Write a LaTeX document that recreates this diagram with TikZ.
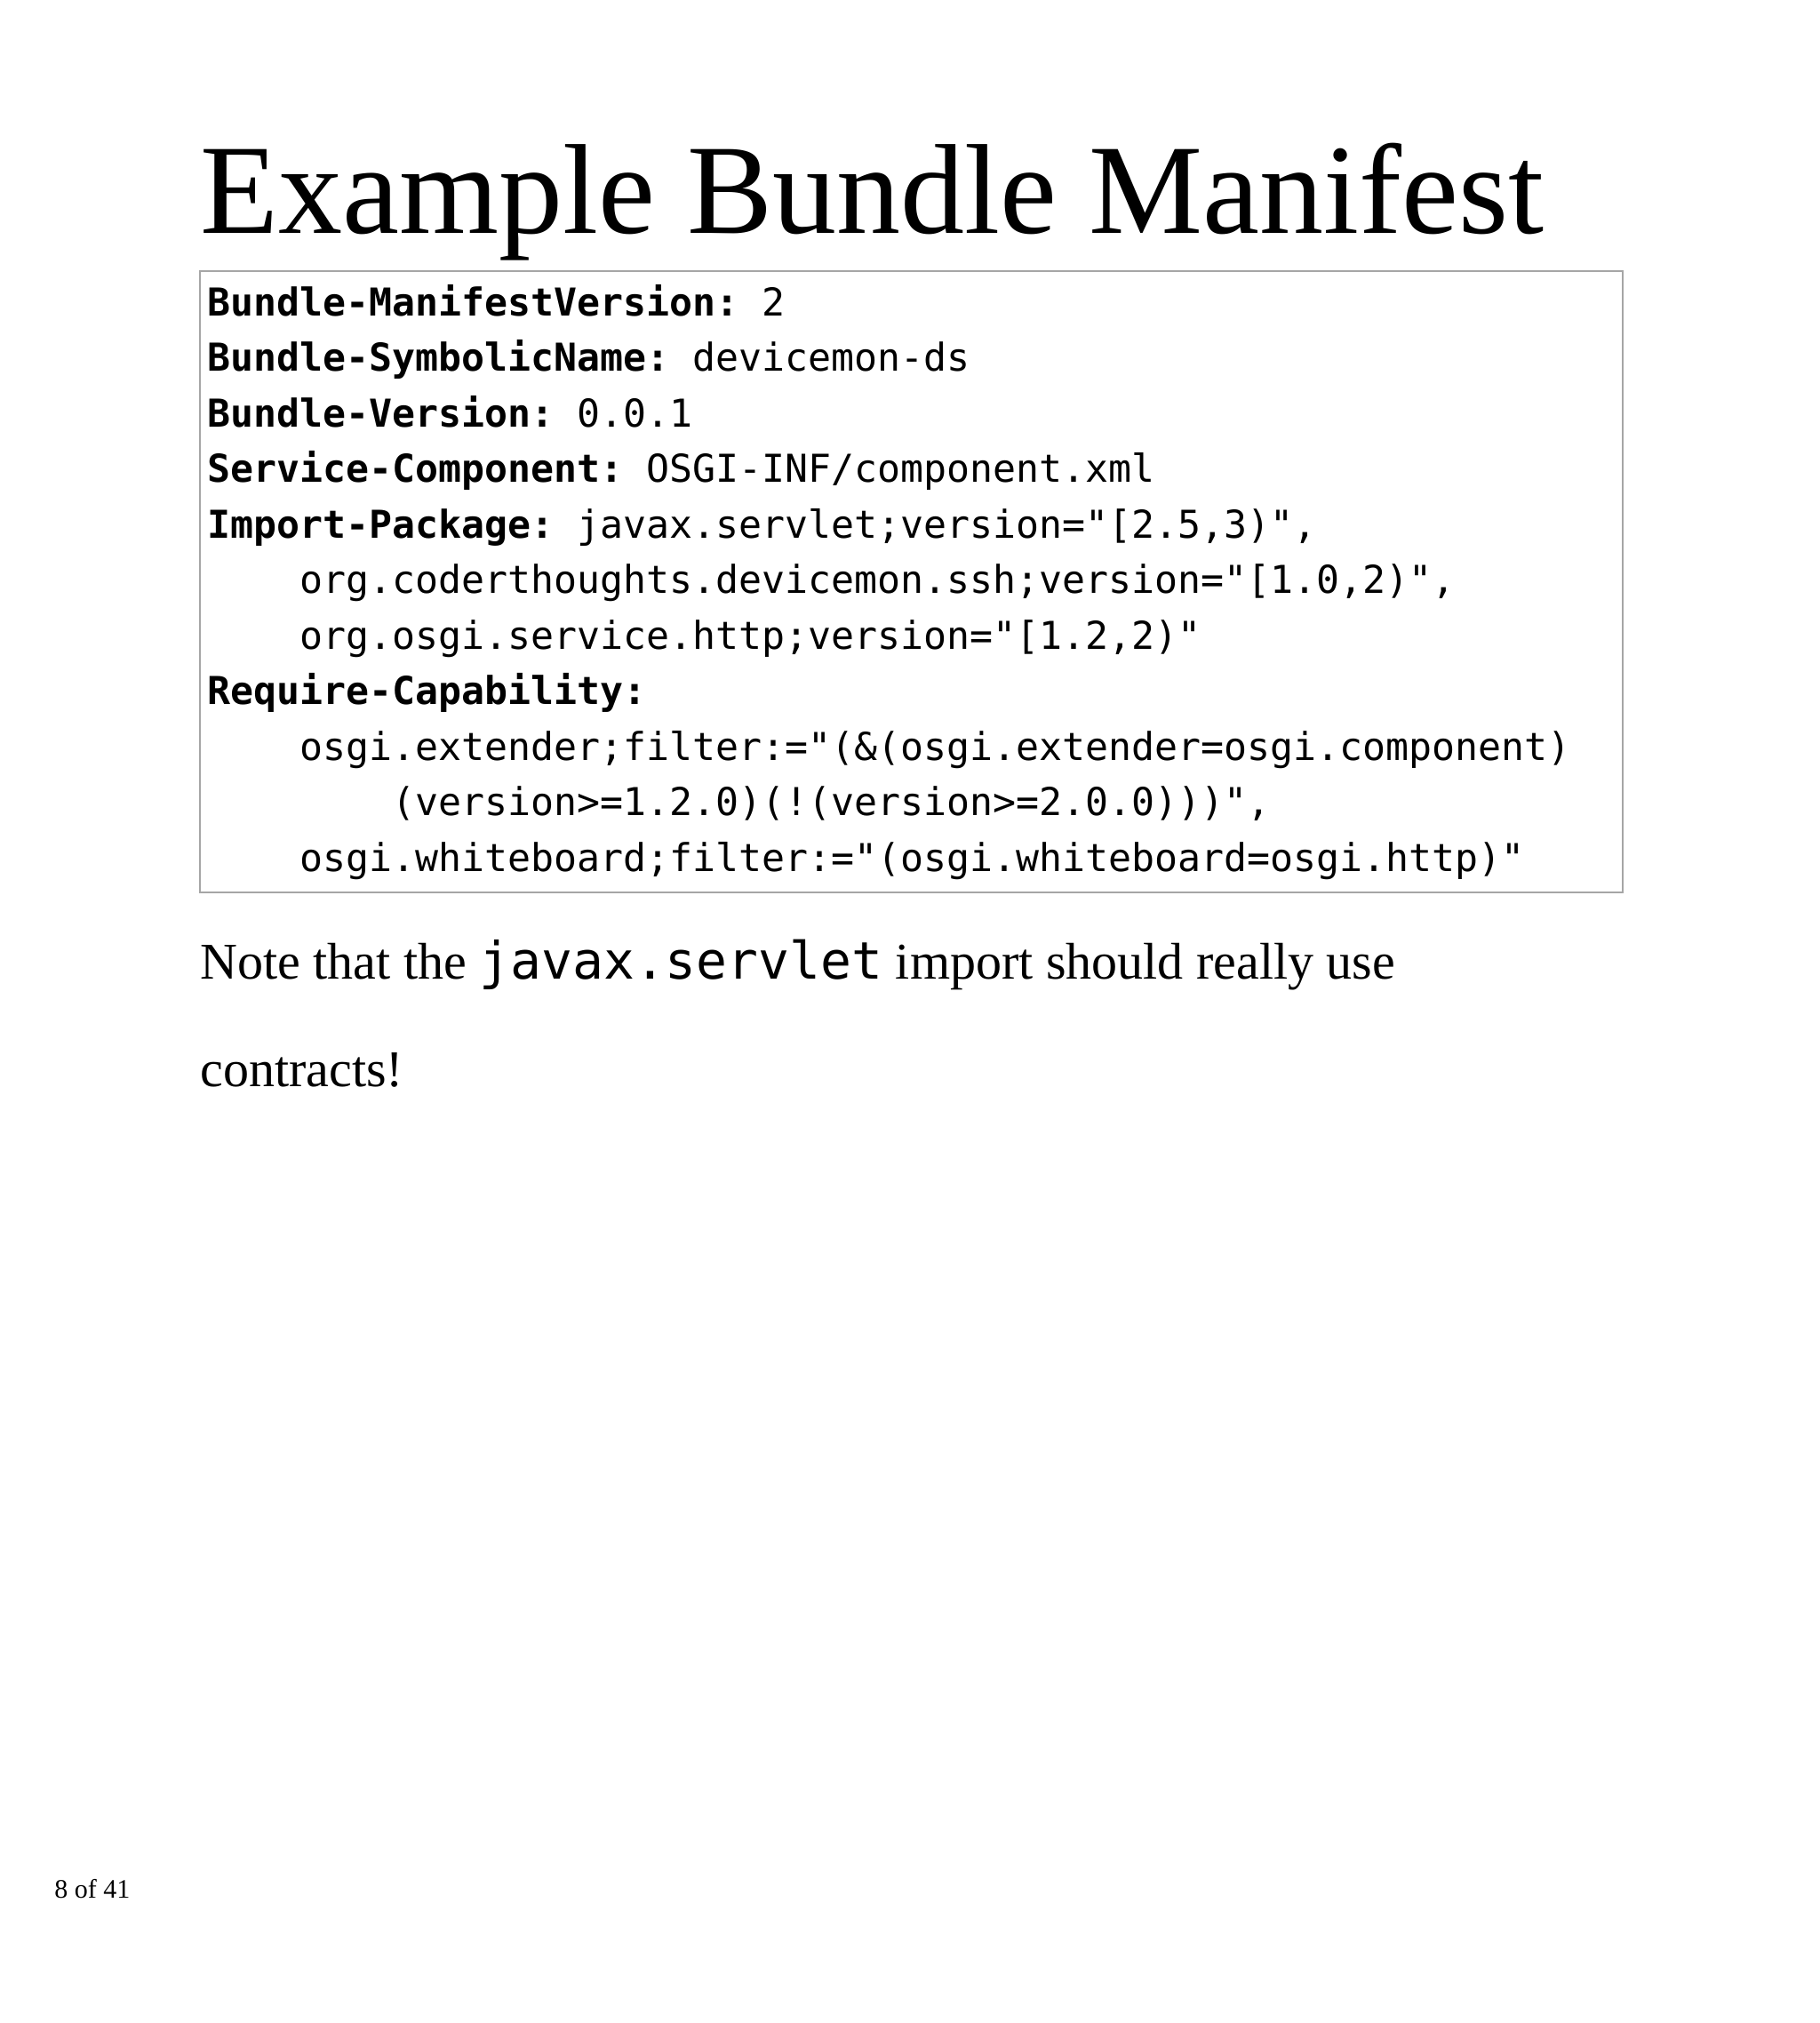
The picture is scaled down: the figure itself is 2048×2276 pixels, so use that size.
\documentclass[tikz,border=0pt]{standalone}
\usepackage{fontspec}
\setmainfont{Liberation Serif}
\setmonofont{DejaVu Sans Mono}
\begin{document}
\begin{tikzpicture}[x=0.5pt,y=-0.5pt,
  code/.style={anchor=base west,inner sep=0pt,font=\fontsize{21.6}{25}\ttfamily}]
\useasboundingbox (0,0) rectangle (2048,2276);
\node[anchor=base west,inner sep=0pt,font=\fontsize{72}{80}\selectfont] (title) at (225,262) {Example Bundle Manifest};
\draw[gray!70,line width=1.2pt] (225,305) rectangle (1826,1004);
\def\L{233}
\node[code] (l1) at (\L,355) {\textbf{Bundle-ManifestVersion:} 2};
\node[code] (l2) at (\L,417.5) {\textbf{Bundle-SymbolicName:} devicemon-ds};
\node[code] (l3) at (\L,480) {\textbf{Bundle-Version:} 0.0.1};
\node[code] (l4) at (\L,542.5) {\textbf{Service-Component:} OSGI-INF/component.xml};
\node[code] (l5) at (\L,605) {\textbf{Import-Package:} javax.servlet;version="[2.5,3)",};
\node[code] (l6) at (\L,667.5) {\ \ \ \ org.coderthoughts.devicemon.ssh;version="[1.0,2)",};
\node[code] (l7) at (\L,730) {\ \ \ \ org.osgi.service.http;version="[1.2,2)"};
\node[code] (l8) at (\L,792.5) {\textbf{Require-Capability:}};
\node[code] (l9) at (\L,855) {\ \ \ \ osgi.extender;filter:="(\&(osgi.extender=osgi.component)};
\node[code] (l10) at (\L,917.5) {\ \ \ \ \ \ \ \ (version>=1.2.0)(!(version>=2.0.0)))",};
\node[code] (l11) at (\L,980) {\ \ \ \ osgi.whiteboard;filter:="(osgi.whiteboard=osgi.http)"};
\node[anchor=base west,inner sep=0pt,font=\fontsize{29}{32}\selectfont] (note) at (225,1101) {Note that the {\fontsize{29}{32}\ttfamily javax.servlet} import should really use};
\node[anchor=base west,inner sep=0pt,font=\fontsize{29}{32}\selectfont] (note2) at (225,1222) {contracts!};
\node[anchor=base west,inner sep=0pt,font=\fontsize{15}{18}\selectfont] (page) at (61,2135) {8 of 41};
\end{tikzpicture}
\end{document}
